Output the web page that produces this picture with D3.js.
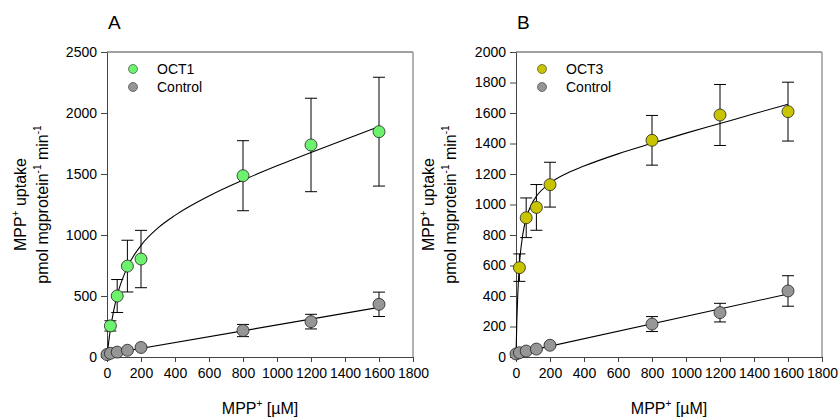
<!DOCTYPE html>
<html lang="en">
<head>
    <meta charset="UTF-8" />
    <title>MPP+ uptake - OCT1 / OCT3</title>
    <style>
        body, html {
            margin: 0;
            padding: 0;
            overflow: hidden;
            background: #fff;
            font-family: "Liberation Sans", Arial, sans-serif;
        }
        svg {
            display: block;
        }
        .tick text {
            font-size: 14px;
            fill: #000;
        }
    </style>
</head>
<body>

<svg width="840" height="419"></svg>

<script src="https://d3js.org/d3.v7.min.js"></script>
<script>
    // concentrations (µM)
    const concLow = [0, 20, 60, 120, 200, 800, 1200, 1600];
    const concOct = [20, 60, 120, 200, 800, 1200, 1600];

    // panel A: OCT1
    const oct1Mean = [255, 500, 745, 803, 1486, 1738, 1847];
    const oct1Err  = [42, 135, 212, 235, 287, 383, 446];
    // panel B: OCT3
    const oct3Mean = [586, 913, 981, 1130, 1421, 1587, 1609];
    const oct3Err  = [90, 130, 150, 147, 163, 200, 193];

    // control (same cells in both panels)
    const ctrlMeanA = [20, 30, 40, 55, 78, 217, 290, 432];
    const ctrlErrA  = [4, 5, 6, 8, 10, 50, 60, 100];
    const ctrlMeanB = [20, 28, 39, 52, 77, 216, 291, 433];
    const ctrlErrB  = [4, 5, 6, 8, 10, 49, 61, 100];

    // fitted curves
    const fitX1 = [0, 5, 10, 20, 40, 60, 120, 200, 300, 400, 600, 800, 1000, 1200, 1400, 1600];
    const fitY1 = [0, 65, 124, 226, 385, 505, 736, 915, 1058, 1161, 1320, 1450, 1567, 1677, 1782, 1888];
    const fitX3 = [0, 5, 10, 20, 40, 60, 90, 120, 200, 300, 400, 600, 800, 1000, 1200, 1400, 1600];
    const fitY3 = [0, 239, 399, 600, 804, 909, 999, 1054, 1140, 1205, 1252, 1332, 1401, 1468, 1531, 1595, 1657];
    const ctrlFitX = [0, 1600];
    const ctrlFitYA = [22, 407];
    const ctrlFitYB = [22, 413];

    const xTicks = [0, 200, 400, 600, 800, 1000, 1200, 1400, 1600, 1800];
    const yTicksA = [0, 500, 1000, 1500, 2000, 2500];
    const yTicksB = [0, 200, 400, 600, 800, 1000, 1200, 1400, 1600, 1800, 2000];

    const svg = d3.select("svg");

    function drawPanel(opt) {
        const left = opt.left, right = left + 306, top = 52, bottom = 357;

        const x = d3.scaleLinear().domain([0, 1800]).range([left, right]);
        const y = d3.scaleLinear().domain([0, opt.yMax]).range([bottom, top]);

        const g = svg.append("g");

        // frame (top + right)
        g.append("line").attr("x1", left).attr("x2", right).attr("y1", top).attr("y2", top)
            .attr("stroke", "#444").attr("stroke-width", 1);
        g.append("line").attr("x1", right).attr("x2", right).attr("y1", top).attr("y2", bottom)
            .attr("stroke", "#999").attr("stroke-width", 1.5);

        // axes
        const xAxis = g.append("g")
            .attr("transform", `translate(0,${bottom})`)
            .call(d3.axisBottom(x).tickValues(xTicks).tickFormat(d3.format("d"))
                .tickSize(5).tickPadding(6).tickSizeOuter(0));
        const yAxis = g.append("g")
            .attr("transform", `translate(${left},0)`)
            .call(d3.axisLeft(y).tickValues(opt.yTicks).tickFormat(d3.format("d"))
                .tickSize(6).tickPadding(4).tickSizeOuter(0));
        [xAxis, yAxis].forEach(a => {
            a.selectAll("path, line").attr("stroke", "#444");
            a.selectAll("text").style("font-family", "'Liberation Sans', Arial, sans-serif");
        });

        // fitted lines
        const line = d3.line().x(d => x(d[0])).y(d => y(d[1])).curve(d3.curveMonotoneX);
        g.append("path")
            .datum(opt.fitX.map((v, i) => [v, opt.fitY[i]]))
            .attr("d", line).attr("fill", "none").attr("stroke", "#000").attr("stroke-width", 1.1);
        g.append("path")
            .datum(ctrlFitX.map((v, i) => [v, opt.ctrlFitY[i]]))
            .attr("d", line).attr("fill", "none").attr("stroke", "#000").attr("stroke-width", 1.1);

        // error bars + markers
        function series(xs, means, errs, color) {
            const pts = xs.map((v, i) => ({ c: v, m: means[i], e: errs[i] }));
            const eb = g.append("g").attr("stroke", "#000").attr("stroke-width", 1);
            pts.forEach(p => {
                const cx = x(p.c);
                eb.append("line").attr("x1", cx).attr("x2", cx).attr("y1", y(p.m - p.e)).attr("y2", y(p.m + p.e));
                eb.append("line").attr("x1", cx - 6).attr("x2", cx + 6).attr("y1", y(p.m - p.e)).attr("y2", y(p.m - p.e));
                eb.append("line").attr("x1", cx - 6).attr("x2", cx + 6).attr("y1", y(p.m + p.e)).attr("y2", y(p.m + p.e));
            });
            g.append("g").selectAll("circle")
                .data(pts).join("circle")
                .attr("cx", d => x(d.c)).attr("cy", d => y(d.m)).attr("r", 6)
                .attr("fill", color).attr("stroke", "#222").attr("stroke-width", 0.8);
        }
        series(concLow, opt.ctrlMean, opt.ctrlErr, "#969696");
        series(concOct, opt.mean, opt.err, opt.color);

        // legend
        const leg = g.append("g");
        [[opt.name, opt.color], ["Control", "#969696"]].forEach((d, i) => {
            leg.append("circle").attr("cx", left + 26).attr("cy", 69 + i * 18).attr("r", 4.5)
                .attr("fill", d[1]).attr("stroke", "#333").attr("stroke-width", 0.6);
            leg.append("text").attr("x", left + 50).attr("y", 74 + i * 18)
                .attr("font-size", 14).text(d[0]);
        });

        // panel letter
        g.append("text").attr("x", left + 1).attr("y", 29).attr("font-size", 19).text(opt.letter);

        // axis titles
        const xt = g.append("text").attr("x", (left + right) / 2).attr("y", 414)
            .attr("text-anchor", "middle").attr("font-size", 16);
        xt.append("tspan").text("MPP");
        xt.append("tspan").attr("dy", -7).attr("font-size", 10).text("+");
        xt.append("tspan").attr("dy", 7).text(" [µM]");

        const cy = (top + bottom) / 2;
        const yt1 = g.append("text").attr("transform", `translate(${opt.titleX},${cy}) rotate(-90)`)
            .attr("text-anchor", "middle").attr("font-size", 16);
        yt1.append("tspan").text("MPP");
        yt1.append("tspan").attr("dy", -7).attr("font-size", 10).text("+");
        yt1.append("tspan").attr("dy", 7).text(" uptake");

        const yt2 = g.append("text").attr("transform", `translate(${opt.titleX + 22},${cy}) rotate(-90)`)
            .attr("text-anchor", "middle").attr("font-size", 16);
        yt2.append("tspan").text("pmol mgprotein");
        yt2.append("tspan").attr("dy", -7).attr("font-size", 10).text("-1");
        yt2.append("tspan").attr("dy", 7).text(" min");
        yt2.append("tspan").attr("dy", -7).attr("font-size", 10).text("-1");
    }

    drawPanel({
        left: 107, yMax: 2500, yTicks: yTicksA, letter: "A", name: "OCT1", color: "#6cf26c",
        mean: oct1Mean, err: oct1Err, ctrlMean: ctrlMeanA, ctrlErr: ctrlErrA,
        fitX: fitX1, fitY: fitY1, ctrlFitY: ctrlFitYA, titleX: 26
    });
    drawPanel({
        left: 516, yMax: 2000, yTicks: yTicksB, letter: "B", name: "OCT3", color: "#c8c400",
        mean: oct3Mean, err: oct3Err, ctrlMean: ctrlMeanB, ctrlErr: ctrlErrB,
        fitX: fitX3, fitY: fitY3, ctrlFitY: ctrlFitYB, titleX: 434
    });
</script>
</body>
</html>
